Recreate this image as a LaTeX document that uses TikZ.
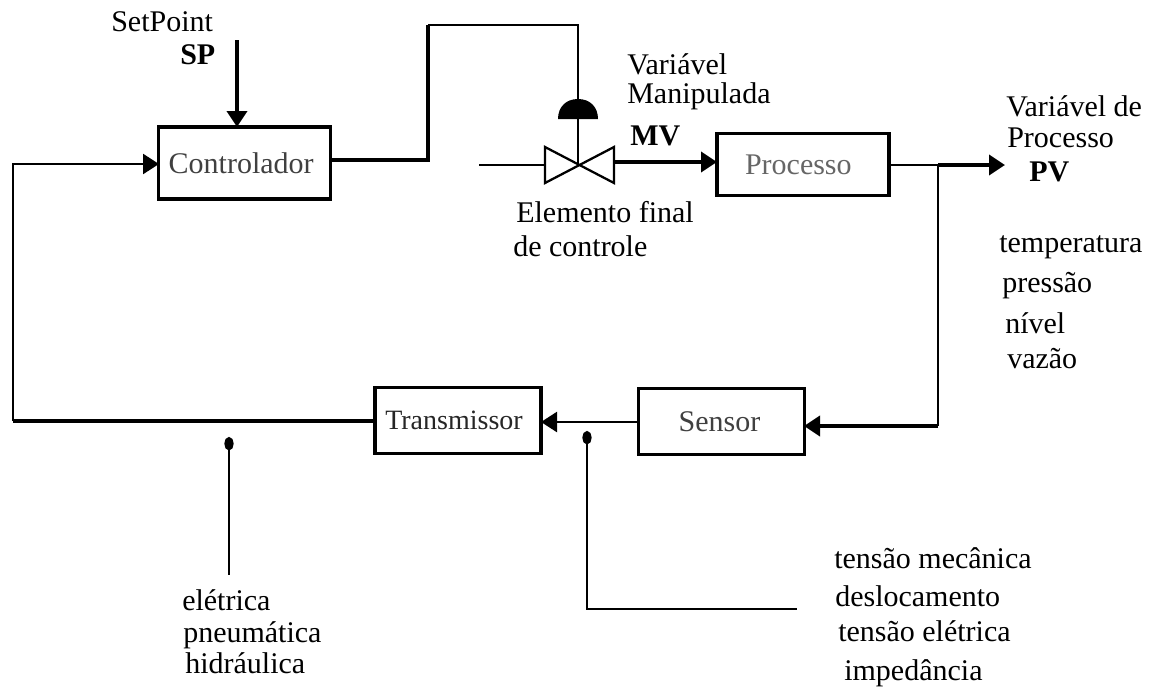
\documentclass[tikz,border=0pt]{standalone}
\usepackage{fontspec}
\setmainfont{Liberation Serif}
\usetikzlibrary{arrows.meta}
\newcommand{\tsize}{\fontsize{22.5}{25}\selectfont}
\tikzset{
  x=0.75pt,y=-0.75pt,
  box/.style={draw=black,line width=2.3pt,inner sep=0pt,font=\tsize},
  lab/.style={anchor=base west,inner sep=0pt,text=black,font=\tsize},
  strong/.style={lab,font=\tsize\bfseries,text=black},
  thinln/.style={draw=black,line width=1.8pt},
  thickln/.style={draw=black,line width=2.7pt},
  arr/.style={-{Triangle[length=12pt,width=15pt]}},
  dotted end/.style={{Circle[length=10pt,width=7pt]}-}
}
\begin{document}
\begin{tikzpicture}
\useasboundingbox (0,0) rectangle (1157,689);
% boxes
\node[box,minimum width=129pt,minimum height=54pt,text=black!75] (ctrl) at (244.5,163) {\kern-5pt Controlador};
\node[box,minimum width=129pt,minimum height=47pt,text=black!60] (proc) at (803,164.5) {\kern-7pt Processo};
\node[box,minimum width=124.5pt,minimum height=49pt,text=black!85,font=\fontsize{21}{24}\selectfont] (trans) at (458,420.5) {\kern-6pt Transmissor};
\node[box,minimum width=124pt,minimum height=49pt,text=black!75] (sens) at (721.5,421.5) {\kern-3pt Sensor};
% coordinates
\coordinate (spstart) at (237,40);
\coordinate (spend) at (237,127);
\coordinate (cin) at (159,164);
\coordinate (fbcorner) at (13,164);
\coordinate (fbbottom) at (13,421);
\coordinate (tout) at (375,421);
\coordinate (cout) at (330,160);
\coordinate (k1) at (428,160);
\coordinate (k2) at (428,25);
\coordinate (k3) at (578,25);
\coordinate (vc) at (578,165);
\coordinate (dometop) at (578,99);
\coordinate (vin) at (479,165);
\coordinate (vl) at (545,165);
\coordinate (vr) at (614,162);
\coordinate (pin) at (717,162);
\coordinate (pout) at (889,165);
\coordinate (tap) at (938,165);
\coordinate (pvend) at (1005,165);
\coordinate (tapb) at (938,426);
\coordinate (sin) at (804,426);
\coordinate (sout) at (639,422);
\coordinate (tin) at (541,422);
\coordinate (d1) at (229,437);
\coordinate (d1b) at (229,575);
\coordinate (d2) at (587,431);
\coordinate (d2c) at (587,609);
\coordinate (d2e) at (797,609);
% valve
\draw[draw=black,line width=1.7pt,fill=white,line join=miter]
  (545,147) -- (614,183) -- (614,147) -- (545,183) -- cycle;
% dome
\fill[black] (558,119) .. controls (558,107) and (566,99) .. (dometop)
  .. controls (590,99) and (598,107) .. (598,119) -- cycle;
% connectors
\draw[thickln,arr] (spstart) -- (spend);
\draw[thinln,arr] (fbbottom) -- (fbcorner) -- (cin);
\draw[thickln] (tout) -- (fbbottom);
\draw[thickln,line join=miter] (cout) -- (k1) -- (k2);
\draw[thinln,line join=miter] (k2) -- (k3) -- (vc);
\draw[thinln] (vin) -- (vl);
\draw[thickln,arr] (vr) -- (pin);
\draw[thinln] (pout) -- (tap);
\draw[thickln,arr] (tap) -- (pvend);
\draw[thinln] (tap) -- (tapb);
\draw[thickln,arr] (tapb) -- (sin);
\draw[thinln,arr] (sout) -- (tin);
\draw[thinln,dotted end] (d1) -- (d1b);
\draw[thinln,dotted end,line join=miter] (d2) -- (d2c) -- (d2e);
% labels
\node[lab] (l1) at (111,31) {SetPoint};
\node[strong] (l2) at (180,64) {SP};
\node[lab] (l3) at (627,74) {Variável};
\node[lab] (l4) at (627,103) {Manipulada};
\node[strong] (l5) at (630,145) {MV};
\node[lab] (l6) at (1006,116) {Variável de};
\node[lab] (l7) at (1007,147) {Processo};
\node[strong] (l8) at (1029,181) {PV};
\node[lab] (l9) at (516,222) {Elemento final};
\node[lab] (l10) at (513,256) {de controle};
\node[lab] (l11) at (999,252) {temperatura};
\node[lab] (l12) at (1002,292) {pressão};
\node[lab] (l13) at (1005,333) {nível};
\node[lab] (l14) at (1007,368) {vazão};
\node[lab] (l15) at (834,568) {tensão mecânica};
\node[lab] (l16) at (835,606) {deslocamento};
\node[lab] (l17) at (838,641) {tensão elétrica};
\node[lab] (l18) at (844,680) {impedância};
\node[lab] (l19) at (182,610) {elétrica};
\node[lab] (l20) at (183,642) {pneumática};
\node[lab] (l21) at (185,673) {hidráulica};
\end{tikzpicture}
\end{document}
